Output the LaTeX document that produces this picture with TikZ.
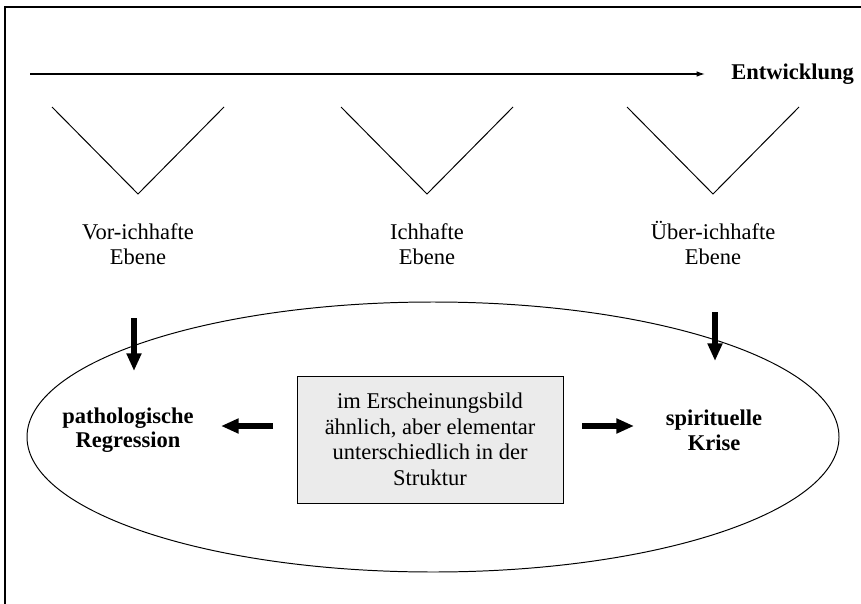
\documentclass[tikz,border=0pt]{standalone}
\usepackage{fontspec}
\setmainfont{Liberation Serif}
\usetikzlibrary{arrows.meta,positioning,shapes.geometric}
\tikzset{%
	ebene/.style    = {align=center, inner sep=0pt, font=\fontsize{16}{18.4}\selectfont},
	pol/.style      = {align=center, inner sep=0pt, font=\fontsize{16}{17.5}\selectfont\bfseries},
	kasten/.style   = {draw, fill=black!8, line width=0.7pt, minimum width=266*0.025cm, minimum height=127*0.025cm, align=center, inner sep=0pt, font=\fontsize{16}{18.2}\selectfont},
	feld/.style     = {draw, ellipse, line width=0.7pt, minimum width=812*0.025cm, minimum height=270*0.025cm, inner sep=0pt},
	vee/.style      = {line width=0.7pt},
	rahmen/.style   = {line width=1.5pt},
	dickpfeil/.style= {line width=4.3pt, -{Triangle[length=12.5pt,width=10pt]}},
	pfeil/.style    = {line width=0.9pt, -{Latex[length=6pt,width=4pt]}},
}

\begin{document}
\begin{tikzpicture}[x=0.025cm,y=-0.025cm]
	\useasboundingbox (0,0) rectangle (861,604);
	\draw[rahmen] (861,7) -- (5,7) -- (5,604);
	
	% Entwicklungsachse
	\coordinate (start) at (30,74);
	\node[pol, anchor=west] (entw) at (731,74) {Entwicklung};
	\draw[pfeil] (start) -- ([xshift=-26*0.025cm]entw.west);
	
	% Ebenen
	\foreach \x/\name/\txt in {138/vor/{Vor-ichhafte\\Ebene}, 427/ich/{Ichhafte\\Ebene}, 713/ueber/{Über-ichhafte\\Ebene}} {
		\draw[vee] (\x-86,107) -- (\x,194) -- (\x+86,107);
		\node[ebene] (\name) at (\x,243) {\vphantom{Ü}\txt};
	}
	
	\node[feld] (feld) at (433,437) {};
	\node[kasten] (box) at (430,439.5) {im Erscheinungsbild\\ähnlich, aber elementar\\unterschiedlich in der\\Struktur};
	\node[pol] (patho) at (128,430) {pathologische\\Regression};
	\node[pol] (krise) at (714,430) {spirituelle\\Krise};
	
	\coordinate (vorA) at (134,318);   \coordinate (vorB) at (134,371);
	\coordinate (ueberA) at (715,312); \coordinate (ueberB) at (715,361);
	\coordinate (linksA) at (273,426); \coordinate (linksB) at (221,426);
	\coordinate (rechtsA) at (582,426);\coordinate (rechtsB) at (634,426);
	\draw[dickpfeil] (vorA) -- (vorB);
	\draw[dickpfeil] (ueberA) -- (ueberB);
	\draw[dickpfeil] (linksA) -- (linksB);
	\draw[dickpfeil] (rechtsA) -- (rechtsB);
\end{tikzpicture}
\end{document}
